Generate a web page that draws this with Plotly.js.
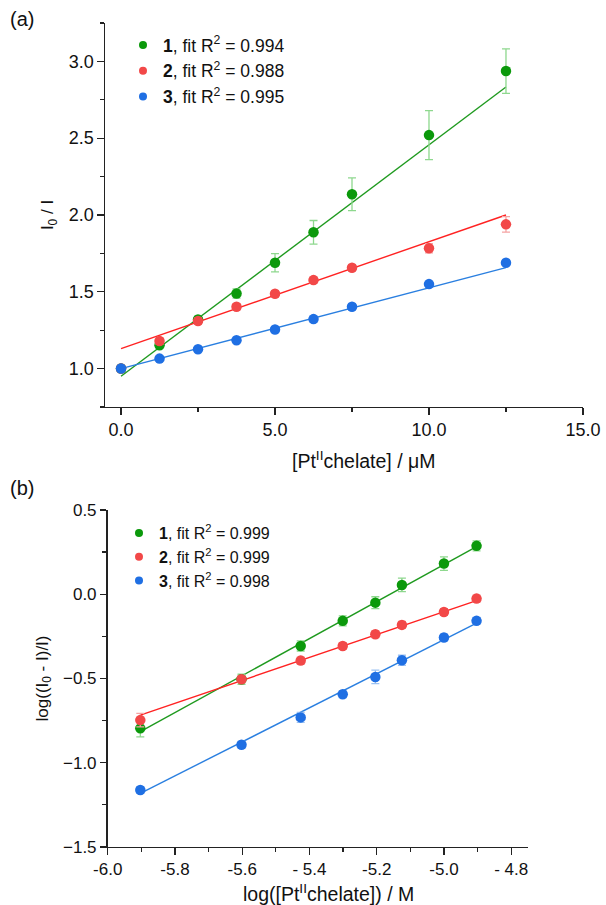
<!DOCTYPE html>
<html>
<head>
<meta charset="utf-8">
<script src="https://cdn.plot.ly/plotly-3.0.1.min.js"></script>
<style>
  html, body { margin: 0; padding: 0; background: #ffffff; }
  #chart { width: 606px; height: 905px; }
</style>
</head>
<body>
<div id="chart"></div>
<script>
// panel (a): I0/I against concentration in uM
const concA = [0, 1.25, 2.5, 3.75, 5.0, 6.25, 7.5, 10.0, 12.5];
const ratio1 = [1.0, 1.152, 1.32, 1.489, 1.689, 1.887, 2.135, 2.52, 2.937];
const ratio2 = [1.0, 1.18, 1.309, 1.402, 1.487, 1.576, 1.657, 1.783, 1.939];
const ratio3 = [1.0, 1.065, 1.126, 1.185, 1.254, 1.322, 1.402, 1.55, 1.689];
const errA1 = [0.01, 0.01, 0.02, 0.03, 0.06, 0.077, 0.107, 0.16, 0.145];
const errA2 = [0.01, 0.02, 0.02, 0.02, 0.02, 0.02, 0.02, 0.03, 0.05];
const errA3 = [0.01, 0.01, 0.01, 0.01, 0.015, 0.02, 0.02, 0.015, 0.015];
const fitXA = [0, 12.5];
const fitA1 = [0.95, 2.833];
const fitA2 = [1.13, 2.0];
const fitA3 = [1.0, 1.657];

// panel (b): log((I0-I)/I) against log concentration in M
const logConc = [-5.903, -5.602, -5.426, -5.301, -5.204, -5.125, -5.0, -4.903];
const logq1 = [-0.796, -0.505, -0.307, -0.158, -0.050, 0.055, 0.182, 0.287];
const logq2 = [-0.747, -0.505, -0.394, -0.307, -0.238, -0.182, -0.105, -0.026];
const logq3 = [-1.162, -0.893, -0.731, -0.594, -0.491, -0.392, -0.257, -0.158];
const errB1 = [0.05, 0.03, 0.03, 0.03, 0.035, 0.04, 0.04, 0.03];
const errB2 = [0.04, 0.02, 0.02, 0.02, 0.02, 0.02, 0.02, 0.02];
const errB3 = [0.02, 0.02, 0.03, 0.02, 0.04, 0.03, 0.02, 0.02];
const fitXB = [-5.903, -4.903];
const fitB1 = [-0.816, 0.283];
const fitB2 = [-0.717, -0.038];
const fitB3 = [-1.182, -0.172];

const legendA = ['<b>1</b>, fit R<sup>2</sup> = 0.994', '<b>2</b>, fit R<sup>2</sup> = 0.988', '<b>3</b>, fit R<sup>2</sup> = 0.995'];
const legendB = ['<b>1</b>, fit R<sup>2</sup> = 0.999', '<b>2</b>, fit R<sup>2</sup> = 0.999', '<b>3</b>, fit R<sup>2</sup> = 0.998'];
const xTicksB = [-6.0, -5.8, -5.6, -5.4, -5.2, -5.0, -4.8];
const xTickTextB = ['-6.0', '-5.8', '-5.6', '- 5.4', '-5.2', '-5.0', '- 4.8'];
const xTitleA = '[Pt<sup>II</sup>chelate] / \u03bcM';
const xTitleB = 'log([Pt<sup>II</sup>chelate]) / M';

const markerColors = ['#0b990b', '#f24848', '#1f6fe3'];
const lineColors = ['#1f9a1f', '#ff2222', '#2a7fe0'];
const errColors = ['#8ed88e', '#f5a3a3', '#9cc2f2'];
const FONT = 'Liberation Sans, Arial, sans-serif';

const points = (x, y, err, i, xa, ya) => ({
    x: x,
    y: y,
    type: 'scatter',
    mode: 'markers',
    xaxis: xa,
    yaxis: ya,
    showlegend: false,
    marker: {color: markerColors[i], size: 10.5},
    error_y: {type: 'data', array: err, visible: true, color: errColors[i], thickness: 1.3, width: 4},
    hoverinfo: 'x+y',
});

const fitLine = (x, y, i, xa, ya) => ({
    x: x,
    y: y,
    type: 'scatter',
    mode: 'lines',
    xaxis: xa,
    yaxis: ya,
    showlegend: false,
    line: {color: lineColors[i], width: 1.4},
    hoverinfo: 'skip',
});

// legend-only entries so the legend symbol stays small and without error bars
const legendEntry = (name, i, legend, xa, ya) => ({
    x: [null],
    y: [null],
    type: 'scatter',
    mode: 'markers',
    name: name,
    legend: legend,
    xaxis: xa,
    yaxis: ya,
    marker: {color: markerColors[i], size: 8},
});

const data = [
    fitLine(fitXA, fitA1, 0, 'x', 'y'),
    fitLine(fitXA, fitA2, 1, 'x', 'y'),
    fitLine(fitXA, fitA3, 2, 'x', 'y'),
    points(concA, ratio1, errA1, 0, 'x', 'y'),
    points(concA, ratio2, errA2, 1, 'x', 'y'),
    points(concA, ratio3, errA3, 2, 'x', 'y'),
    fitLine(fitXB, fitB1, 0, 'x2', 'y2'),
    fitLine(fitXB, fitB2, 1, 'x2', 'y2'),
    fitLine(fitXB, fitB3, 2, 'x2', 'y2'),
    points(logConc, logq1, errB1, 0, 'x2', 'y2'),
    points(logConc, logq2, errB2, 1, 'x2', 'y2'),
    points(logConc, logq3, errB3, 2, 'x2', 'y2'),
    legendEntry(legendA[0], 0, 'legend', 'x', 'y'),
    legendEntry(legendA[1], 1, 'legend', 'x', 'y'),
    legendEntry(legendA[2], 2, 'legend', 'x', 'y'),
    legendEntry(legendB[0], 0, 'legend2', 'x2', 'y2'),
    legendEntry(legendB[1], 1, 'legend2', 'x2', 'y2'),
    legendEntry(legendB[2], 2, 'legend2', 'x2', 'y2'),
];

const axisBase = {
    showline: true,
    linecolor: '#222222',
    linewidth: 1.2,
    mirror: false,
    showgrid: false,
    zeroline: false,
    ticks: 'outside',
    ticklen: 6.5,
    tickwidth: 1.2,
    tickcolor: '#222222',
    automargin: false,
    fixedrange: true,
};

const layout = {
    width: 606,
    height: 905,
    margin: {l: 0, r: 0, t: 0, b: 0},
    paper_bgcolor: '#ffffff',
    plot_bgcolor: '#ffffff',
    font: {family: FONT, color: '#111111', size: 15},
    showlegend: true,
    xaxis: {
        ...axisBase,
        domain: [0.1733, 0.962],
        range: [-0.52, 15],
        tickvals: [0, 5, 10, 15],
        tickformat: '.1f',
        tickfont: {family: FONT, size: 18, color: '#111111'},
        minor: {ticks: 'outside', tickmode: 'linear', tick0: 0, dtick: 2.5, ticklen: 4, tickcolor: '#222222'},
        anchor: 'y',
    },
    yaxis: {
        ...axisBase,
        domain: [0.5503, 0.9746],
        range: [0.75, 3.25],
        tickvals: [1.0, 1.5, 2.0, 2.5, 3.0],
        tickformat: '.1f',
        tickfont: {family: FONT, size: 18, color: '#111111'},
        minor: {ticks: 'outside', tickmode: 'linear', tick0: 0.75, dtick: 0.25, ticklen: 4, tickcolor: '#222222'},
        title: {text: 'I<sub>0</sub> / I', font: {size: 17}, standoff: 10},
        anchor: 'x',
    },
    xaxis2: {
        ...axisBase,
        domain: [0.1777, 0.8713],
        range: [-6.0, -4.75],
        tickvals: xTicksB,
        ticktext: xTickTextB,
        tickfont: {family: FONT, size: 17, color: '#111111'},
        minor: {ticks: 'outside', tickmode: 'linear', tick0: -6.0, dtick: 0.1, ticklen: 4, tickcolor: '#222222'},
        anchor: 'y2',
    },
    yaxis2: {
        ...axisBase,
        domain: [0.0641, 0.4365],
        range: [-1.5, 0.5],
        tickvals: [-1.5, -1.0, -0.5, 0.0, 0.5],
        tickformat: '.1f',
        tickfont: {family: FONT, size: 17, color: '#111111'},
        minor: {ticks: 'outside', tickmode: 'linear', tick0: -1.5, dtick: 0.25, ticklen: 4, tickcolor: '#222222'},
        title: {text: 'log((I<sub>0</sub> - I)/I)', font: {size: 17}, standoff: 10},
        anchor: 'x2',
    },
    legend: {
        x: 123 / 606,
        y: 1 - 27 / 905,
        xanchor: 'left',
        yanchor: 'top',
        bgcolor: 'rgba(0,0,0,0)',
        font: {size: 17.5, color: '#111111'},
        tracegroupgap: 0,
    },
    legend2: {
        x: 119 / 606,
        y: 1 - 516 / 905,
        xanchor: 'left',
        yanchor: 'top',
        bgcolor: 'rgba(0,0,0,0)',
        font: {size: 16, color: '#111111'},
        tracegroupgap: 0,
    },
    annotations: [
        {text: '(a)', x: 8 / 606, y: 1 - 19 / 905, xref: 'paper', yref: 'paper', xanchor: 'left', yanchor: 'middle', showarrow: false, font: {size: 20}},
        {text: '(b)', x: 8 / 606, y: 1 - 488 / 905, xref: 'paper', yref: 'paper', xanchor: 'left', yanchor: 'middle', showarrow: false, font: {size: 20}},
        // x-axis titles sit right of the plot centre in the reference
        {text: xTitleA, x: 363 / 606, y: 1 - 460 / 905, xref: 'paper', yref: 'paper', xanchor: 'center', yanchor: 'middle', showarrow: false, font: {size: 19.5}},
        {text: xTitleB, x: 328 / 606, y: 1 - 893 / 905, xref: 'paper', yref: 'paper', xanchor: 'center', yanchor: 'middle', showarrow: false, font: {size: 19.5}},
    ],
};

Plotly.newPlot('chart', data, layout, {displayModeBar: false, staticPlot: true});
</script>
</body>
</html>
